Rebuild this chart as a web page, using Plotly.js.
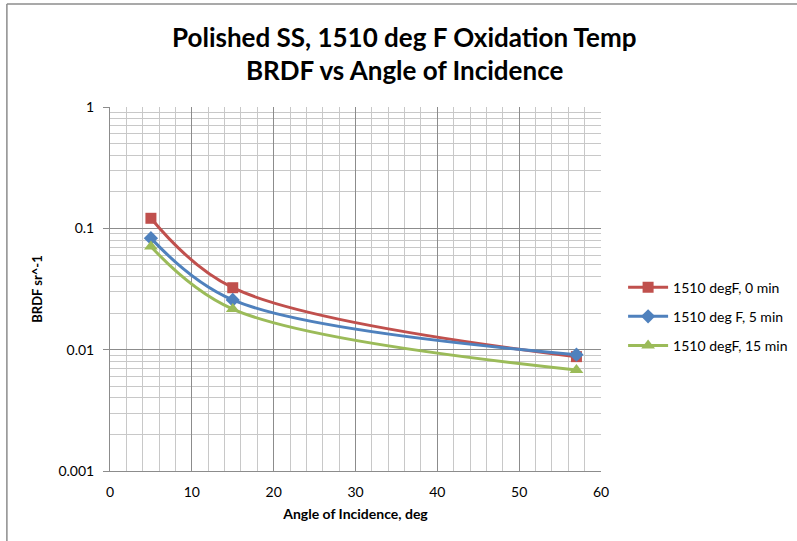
<!DOCTYPE html>
<html>
<head>
<meta charset="utf-8">
<script src="https://cdn.plot.ly/plotly-3.0.1.min.js"></script>
<style>html,body{margin:0;padding:0;background:#fff;}#chart{width:797px;height:541px;}</style>
</head>
<body>
<div id="chart"></div>
<script>
const angles = [5, 15, 57];
const series0Name = "1510 degF, 0 min";
const series0 = [0.121, 0.0324, 0.00876];
const series5Name = "1510 deg F, 5 min";
const series5 = [0.0830, 0.0257, 0.0091];
const series15Name = "1510 degF, 15 min";
const series15 = [0.0708, 0.0216, 0.0068];
const yTickVals = [0.001, 0.01, 0.1, 1];
const yTickText = ["0.001", "0.01", "0.1", "1"];
const titleLine1 = "Polished SS, 1510 deg F Oxidation Temp";
const titleLine2 = "BRDF vs Angle of Incidence";

const FONT = "Lato, 'Open Sans', sans-serif";

function tr(name, y, color, symbol, size, grp) {
  return {
    x: angles, y: y, name: name, type: 'scatter', mode: 'lines+markers',
    legendgroup: grp,
    line: {color: color, width: 3, shape: 'spline', smoothing: 1},
    marker: {color: color, symbol: symbol, size: size}
  };
}

const data = [
  tr(series0Name, series0, '#C0504D', 'square', 11, 'a'),
  tr(series5Name, series5, '#4F81BD', 'diamond', 11, 'b'),
  tr(series15Name, series15, '#9BBB59', 'triangle-up', 12, 'c')
];

const layout = {
  width: 797, height: 541,
  margin: {l: 110, r: 196, t: 107, b: 70, autoexpand: false},
  paper_bgcolor: '#fff', plot_bgcolor: '#fff',
  font: {family: FONT, size: 14, color: '#000'},
  xaxis: {
    range: [0, 60], dtick: 10, tick0: 0,
    showgrid: true, gridcolor: '#8c8c8c', gridwidth: 1,
    minor: {dtick: 2, showgrid: true, gridcolor: '#c8c8c8', gridwidth: 1},
    showline: true, linecolor: '#8c8c8c', linewidth: 1,
    ticks: '', zeroline: false, ticklabelstandoff: 8,
    tickfont: {family: FONT, size: 14},
    title: {text: '<b>Angle of Incidence, deg</b>', font: {family: FONT, size: 14}, standoff: 10}
  },
  yaxis: {
    type: 'log', range: [-3, 0],
    tickvals: yTickVals, ticktext: yTickText,
    showgrid: true, gridcolor: '#8c8c8c', gridwidth: 1,
    minor: {dtick: 'D1', showgrid: true, gridcolor: '#c8c8c8', gridwidth: 1},
    showline: true, linecolor: '#8c8c8c', linewidth: 1,
    ticks: 'outside', ticklen: 6, tickcolor: '#8c8c8c',
    zeroline: false, ticklabelstandoff: 6,
    tickfont: {family: FONT, size: 14},
    title: {text: '<b>BRDF sr^-1</b>', font: {family: FONT, size: 13}, standoff: 12}
  },
  legend: {
    x: 1.045, y: 0.548, xanchor: 'left', yanchor: 'top',
    font: {family: FONT, size: 14}, itemwidth: 40, tracegroupgap: 8,
    bgcolor: 'rgba(0,0,0,0)'
  },
  annotations: [
    {text: '<b>' + titleLine1 + '</b>', xref: 'paper', yref: 'paper', x: 0.599, y: 1.192, xanchor: 'center', yanchor: 'middle', showarrow: false, font: {family: FONT, size: 26, color: '#000'}},
    {text: '<b>' + titleLine2 + '</b>', xref: 'paper', yref: 'paper', x: 0.599, y: 1.1016, xanchor: 'center', yanchor: 'middle', showarrow: false, font: {family: FONT, size: 26, color: '#000'}}
  ],
  shapes: [
    {type: 'line', xref: 'paper', yref: 'paper', x0: -0.21, x1: 1.5, y0: 1.283, y1: 1.283, line: {color: '#8c8c8c', width: 1.5}},
    {type: 'line', xref: 'paper', yref: 'paper', x0: -0.21, x1: -0.21, y0: 1.283, y1: -0.3, line: {color: '#8c8c8c', width: 1.5}}
  ]
};

Plotly.newPlot('chart', data, layout, {displayModeBar: false, staticPlot: true});
</script>
</body>
</html>
